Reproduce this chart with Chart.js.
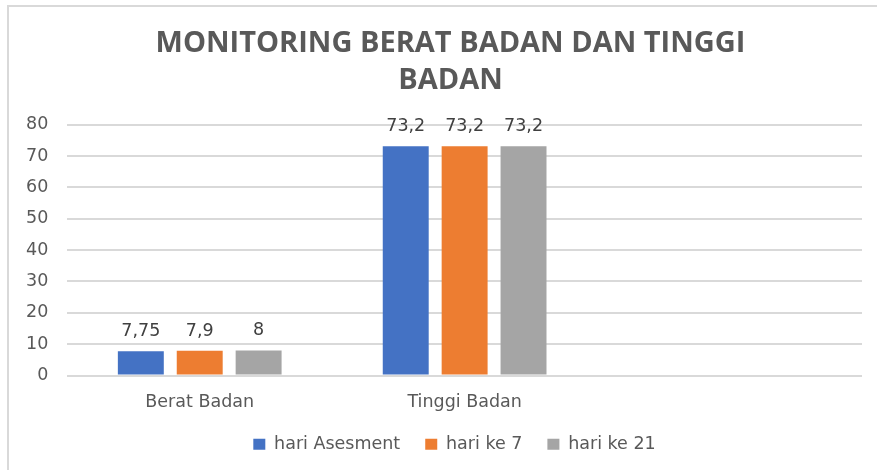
<!DOCTYPE html>
<html>
<head>
<meta charset="utf-8">
<script src="https://cdn.jsdelivr.net/npm/chart.js@4.4.1/dist/chart.umd.min.js"></script>
<style>
    html, body { margin: 0; padding: 0; background: #fff; overflow: hidden; }
    #wrap {
        position: absolute; left: 7px; top: 5px;
        width: 884px; height: 465px;
        border-left: 2px solid #d9d9d9; border-top: 2px solid #d9d9d9;
    }
</style>
</head>
<body>
<div id="wrap"><canvas id="bbChart"></canvas></div>
<script>
const categories = ['Berat Badan', 'Tinggi Badan', ''];
const hariAsesment = [7.75, 73.2, null];
const hariKe7 = [7.9, 73.2, null];
const hariKe21 = [8, 73.2, null];
const yTicks = [0, 10, 20, 30, 40, 50, 60, 70, 80];

const textColor = '#595959';
const bodyFont = 'DejaVu Sans';
const bodySize = 17.5;

// value labels above each bar, decimal comma like the original
const barLabels = {
    id: 'barLabels',
    afterDatasetsDraw(chart) {
        const ctx = chart.ctx;
        ctx.save();
        ctx.font = bodySize + 'px "' + bodyFont + '"';
        ctx.fillStyle = '#404040';
        ctx.textAlign = 'center';
        ctx.textBaseline = 'alphabetic';
        chart.data.datasets.forEach((ds, i) => {
            chart.getDatasetMeta(i).data.forEach((bar, j) => {
                const v = ds.data[j];
                if (v == null) return;
                ctx.fillText(String(v).replace('.', ','), bar.x, bar.y - 15);
            });
        });
        ctx.restore();
    }
};

// the original centres title and legend on the whole frame, not the plot
const nudgeBoxes = {
    id: 'nudgeBoxes',
    afterLayout(chart) {
        chart.titleBlock.left += 16;
        chart.titleBlock.right += 16;
        chart.legend.left += 20;
        chart.legend.right += 20;
        chart.legend.top -= 10;
        chart.legend.bottom -= 10;
    }
};

document.addEventListener('DOMContentLoaded', function () {
    const ctx = document.getElementById('bbChart').getContext('2d');

    new Chart(ctx, {
        type: 'bar',
        data: {
            labels: categories,
            datasets: [
                {label: 'hari Asesment', data: hariAsesment, backgroundColor: '#4472c4'},
                {label: 'hari ke 7', data: hariKe7, backgroundColor: '#ed7d31'},
                {label: 'hari ke 21', data: hariKe21, backgroundColor: '#a5a5a5'}
            ]
        },
        options: {
            responsive: true,
            maintainAspectRatio: false,
            animation: false,
            categoryPercentage: 0.667,
            barPercentage: 0.78,
            layout: {padding: {left: -2, right: 31, top: 0, bottom: -1}},
            plugins: {
                title: {
                    display: true,
                    text: ['MONITORING BERAT BADAN DAN TINGGI', 'BADAN'],
                    color: textColor,
                    font: {family: 'Open Sans', size: 29, weight: 'bold', lineHeight: 1.29},
                    padding: {top: 18, bottom: 25}
                },
                legend: {
                    position: 'bottom',
                    labels: {
                        boxWidth: 12,
                        boxHeight: 11,
                        padding: 25,
                        color: textColor,
                        font: {family: bodyFont, size: bodySize}
                    }
                },
                tooltip: {enabled: false}
            },
            scales: {
                x: {
                    grid: {display: false},
                    border: {display: false},
                    ticks: {color: textColor, font: {family: bodyFont, size: bodySize}, padding: 8}
                },
                y: {
                    min: 0,
                    max: 80,
                    afterBuildTicks: axis => { axis.ticks = yTicks.map(v => ({value: v})); },
                    grid: {color: '#d9d9d9', lineWidth: 2, drawTicks: false},
                    border: {display: false},
                    ticks: {color: textColor, font: {family: bodyFont, size: bodySize}, padding: 19}
                }
            }
        },
        plugins: [barLabels, nudgeBoxes]
    });
});
</script>
</body>
</html>
